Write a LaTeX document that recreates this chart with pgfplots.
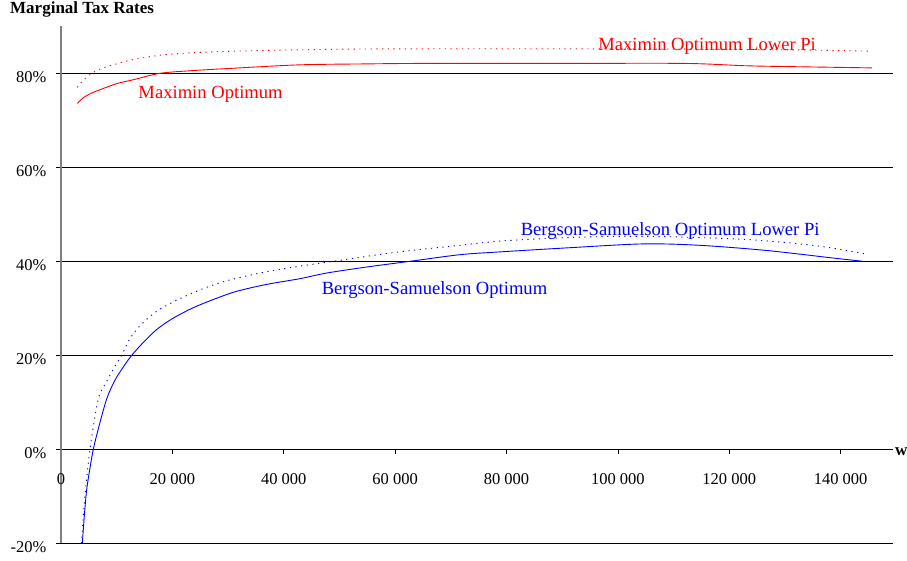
\documentclass[border=0pt]{standalone}
\usepackage{fontspec}
\setmainfont{Liberation Serif}
\usepackage{pgfplots}
\pgfplotsset{compat=1.18}
\begin{document}
\begin{tikzpicture}
\path[use as bounding box] (-61pt,-17.7pt) rectangle (846pt,543.3pt);
\begin{axis}[
  at={(0,0)}, anchor=south west,
  scale only axis, width=832pt, height=517pt,
  xmin=0, xmax=149400, ymin=-20, ymax=90,
  axis x line=middle, axis y line=left,
  axis line style={-},
  x axis line style={black, line width=0.9pt},
  y axis line style={draw=black!50, line width=1.3pt},
  hide obscured x ticks=false, hide obscured y ticks=false,
  scaled x ticks=false,
  xtick={0,20000,40000,60000,80000,100000,120000,140000},
  xticklabels={0,20 000,40 000,60 000,80 000,100 000,120 000,140 000},
  ytick={-20,0,20,40,60,80},
  yticklabels={-20\%,0\%,20\%,40\%,60\%,80\%},
  ymajorgrids, grid style={black, line width=0.8pt},
  tick align=outside, major tick length=5pt,
  tick style={black, line width=0.8pt},
  ticklabel style={font=\fontsize{16.5}{19}\selectfont},
  xticklabel style={yshift=-16pt},
  yticklabel style={yshift=-3.5pt, xshift=-6pt},
  clip mode=individual,
]
% Maximin Optimum
\addplot[red, line width=0.9pt, smooth] coordinates {
(2930,73.6) (4000,74.8) (5500,75.8) (7000,76.5) (10000,77.8) (12900,78.6)
(17800,80.0) (24000,80.6) (30900,81.07) (42900,81.8) (55000,82.0) (65000,82.1)
(90000,82.1) (112000,82.1) (123000,81.6) (132000,81.4) (145600,81.15)
};
% Maximin Optimum Lower Pi
\addplot[red, line width=0.9pt, smooth, dash pattern=on 1.2pt off 4.5pt] coordinates {
(2930,77.0) (4000,78.5) (5500,80.0) (7000,80.9) (8800,81.6) (12900,82.9)
(19000,84.0) (28000,84.6) (42900,85.0) (60000,85.2) (100000,85.2)
(130000,85.0) (145600,84.7)
};
% Bergson-Samuelson Optimum
\addplot[blue, line width=0.9pt, smooth] coordinates {
(3830,-20) (4200,-14) (4600,-8.7) (5200,-4) (5800,0) (6800,4.8) (8200,10.7)
(9600,14.5) (10900,17) (12700,20) (15000,23) (17200,25.5) (20000,27.8)
(23700,30.1) (27650,32) (31500,33.6) (37000,35.1) (42900,36.3) (47700,37.5)
(55000,38.8) (62700,40) (71600,41.4) (78800,42) (90800,42.85) (104500,43.7)
(114700,43.4) (126700,42.3) (138600,40.7) (144000,40)
};
% Bergson-Samuelson Optimum Lower Pi
\addplot[blue, line width=0.9pt, smooth, dash pattern=on 1.2pt off 4.5pt] coordinates {
(3700,-20) (4130,-12.2) (5200,0) (6700,10.7) (8000,14) (9700,17.7) (10900,20)
(12500,23.8) (14700,26.9) (18000,30) (23700,33.3) (29000,35.6) (35700,37.5)
(42000,38.8) (49500,40.1) (60000,41.9) (71600,43.4) (78800,44.3) (90000,45)
(100000,45.3) (110000,45.2) (123700,44.6) (135700,43.3) (144300,41.6)
};
\pgfplotsinvokeforeach{20000,40000,60000,80000,100000,120000,140000}{
  \draw[black, line width=0.8pt] (axis cs:#1,0) -- ++(0pt,-5pt);
}
\node[red, anchor=base west, inner sep=0, font=\fontsize{18.6}{22}\selectfont]
  at (axis cs:13880,74.66) {Maximin Optimum};
\node[red, anchor=base west, inner sep=0, font=\fontsize{18.6}{22}\selectfont]
  at (axis cs:96460,84.85) {Maximin Optimum Lower Pi};
\node[blue, anchor=base west, inner sep=0, font=\fontsize{18.6}{22}\selectfont]
  at (axis cs:82530,45.55) {Bergson-Samuelson Optimum Lower Pi};
\node[blue, anchor=base west, inner sep=0, font=\fontsize{18.6}{22}\selectfont]
  at (axis cs:46800,33.04) {Bergson-Samuelson Optimum};
\end{axis}
\node[anchor=base west, inner sep=0, font=\bfseries\fontsize{17}{20}\selectfont]
  at (-51pt,529.3pt) {Marginal Tax Rates};
\node[anchor=west, inner sep=0, font=\bfseries\fontsize{17}{20}\selectfont]
  at (834pt,92pt) {w};
\end{tikzpicture}
\end{document}
